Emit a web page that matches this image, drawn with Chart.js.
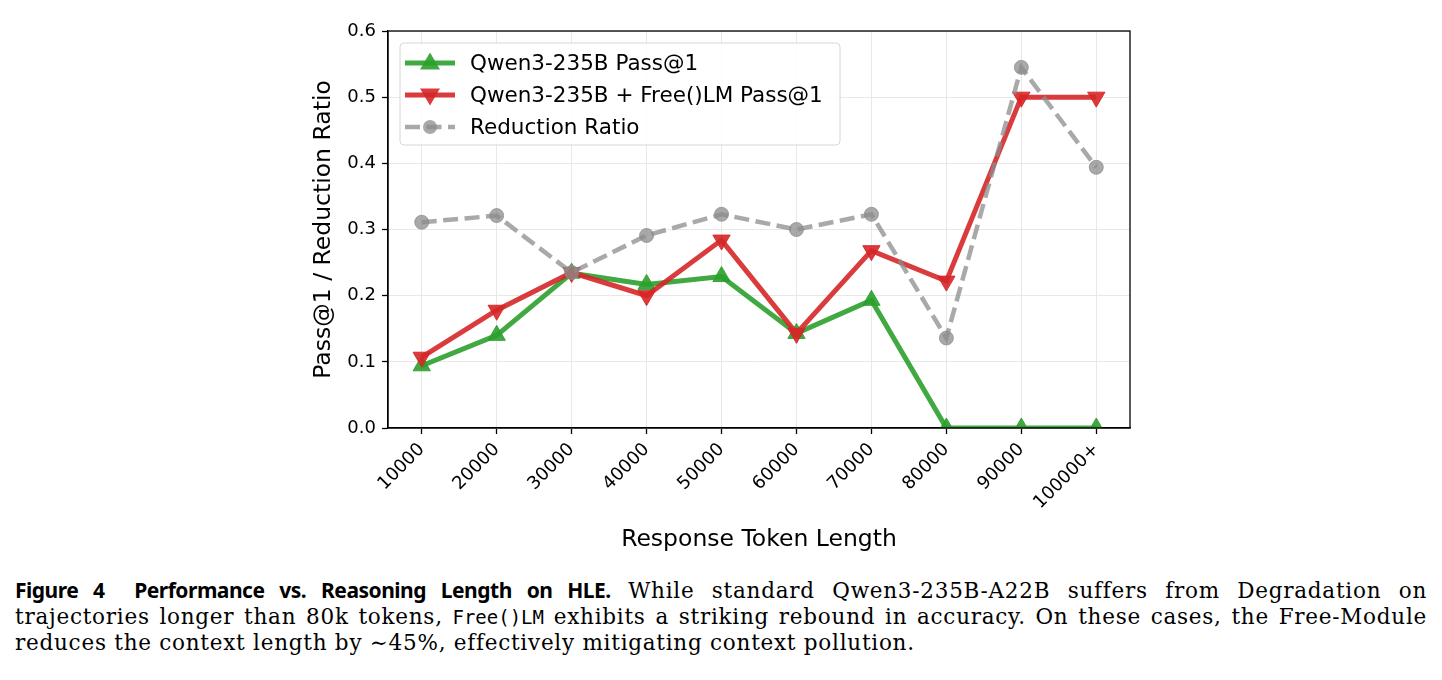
<!DOCTYPE html>
<html lang="en">
<head>
<meta charset="UTF-8">
<title>Performance vs. Reasoning Length on HLE</title>
<script src="https://cdn.jsdelivr.net/npm/chart.js@4.4.1/dist/chart.umd.min.js"></script>
<style>
  body { margin: 0; background: #fff; }
  #wrap { width: 1442px; height: 560px; }
  .cap { width: 1412px; margin-left: 15px; font-family: "DejaVu Serif", serif; font-size: 21.5px; letter-spacing: 0.75px; color: #000; line-height: 26px; }
  .cap div { white-space: nowrap; }
  .cap .j { text-align: justify; text-align-last: justify; }
  .cap b { font-family: "Noto Sans", sans-serif; font-weight: 700; font-size: 21px; letter-spacing: -0.5px; }
  .cap code { font-family: "DejaVu Sans Mono", monospace; font-size: 19px; letter-spacing: 0; }
</style>
</head>
<body>
<div id="wrap"><canvas id="chart" width="1442" height="560"></canvas></div>
<div class="cap" style="margin-top:17px">
  <div class="j"><b>Figure 4&nbsp;&nbsp;Performance vs. Reasoning Length on HLE.</b> While standard Qwen3-235B-A22B suffers from Degradation on</div>
  <div class="j">trajectories longer than 80k tokens, <code>Free()LM</code> exhibits a striking rebound in accuracy. On these cases, the Free-Module</div>
  <div>reduces the context length by ∼45%, effectively mitigating context pollution.</div>
</div>
<script>
const lengths = ["10000","20000","30000","40000","50000","60000","70000","80000","90000","100000+"];
const qwenPass = [0.094, 0.140, 0.234, 0.217, 0.229, 0.143, 0.193, 0.0, 0.0, 0.0];
const freePass = [0.107, 0.178, 0.235, 0.200, 0.284, 0.143, 0.268, 0.222, 0.500, 0.500];
const reduction = [0.311, 0.321, 0.235, 0.291, 0.323, 0.300, 0.323, 0.136, 0.545, 0.394];
const yTicks = [0.0, 0.1, 0.2, 0.3, 0.4, 0.5, 0.6];

const green = "rgba(44,160,44,0.9)";
const red = "rgba(214,39,40,0.9)";
const gray = "rgba(140,140,140,0.75)";
const font = "DejaVu Sans";

const pts = arr => arr.map((v, i) => ({x: i, y: v}));

// matplotlib look: full frame around the axes and the legend inside them
const frameAndLegend = {
    id: "frameAndLegend",
    afterDraw(chart) {
        const {ctx, chartArea: a} = chart;
        ctx.save();
        ctx.strokeStyle = "#000";
        ctx.lineWidth = 1.3;
        ctx.strokeRect(a.left, a.top, a.right - a.left, a.bottom - a.top);

        const bx = a.left + 12, by = a.top + 12, bw = 440, bh = 102;
        ctx.fillStyle = "rgba(255,255,255,0.8)";
        ctx.strokeStyle = "#d6d6d6";
        ctx.lineWidth = 1;
        ctx.beginPath();
        ctx.roundRect(bx, by, bw, bh, 4);
        ctx.fill();
        ctx.stroke();

        const items = [
            {label: "Qwen3-235B Pass@1", color: green, shape: "up", dash: []},
            {label: "Qwen3-235B + Free()LM Pass@1", color: red, shape: "down", dash: []},
            {label: "Reduction Ratio", color: gray, shape: "circle", dash: [15, 6.5]}
        ];
        items.forEach((it, k) => {
            const y = by + 20 + k * 32;
            const x0 = bx + 5, x1 = bx + 55, xm = (x0 + x1) / 2;
            ctx.strokeStyle = it.color;
            ctx.fillStyle = it.color;
            ctx.lineWidth = it.shape === "circle" ? 4.5 : 5;
            ctx.setLineDash(it.dash);
            ctx.beginPath();
            ctx.moveTo(x0, y); ctx.lineTo(x1, y);
            ctx.stroke();
            ctx.setLineDash([]);
            ctx.beginPath();
            if (it.shape === "circle") {
                ctx.arc(xm, y, 7, 0, Math.PI * 2);
            } else {
                const s = it.shape === "up" ? -1 : 1;
                ctx.moveTo(xm, y + s * 10.5);
                ctx.lineTo(xm - 10, y - s * 6.5);
                ctx.lineTo(xm + 10, y - s * 6.5);
                ctx.closePath();
            }
            ctx.fill();
            ctx.fillStyle = "#000";
            ctx.font = "21.5px '" + font + "'";
            ctx.textBaseline = "middle";
            ctx.fillText(it.label, bx + 70, y + 1);
        });
        ctx.restore();
    }
};

new Chart(document.getElementById("chart"), {
    type: "line",
    data: {
        datasets: [
            {
                label: "Qwen3-235B Pass@1",
                data: pts(qwenPass),
                borderColor: green, backgroundColor: green,
                borderWidth: 5,
                pointStyle: "triangle", pointRadius: 10, pointBorderWidth: 1,
                clip: 0, order: 2
            },
            {
                label: "Qwen3-235B + Free()LM Pass@1",
                data: pts(freePass),
                borderColor: red, backgroundColor: red,
                borderWidth: 5,
                pointStyle: "triangle", rotation: 180, pointRadius: 10, pointBorderWidth: 1,
                clip: 0, order: 1
            },
            {
                label: "Reduction Ratio",
                data: pts(reduction),
                borderColor: gray, backgroundColor: gray,
                borderWidth: 4.5, borderDash: [15, 6.5],
                pointStyle: "circle", pointRadius: 7, pointBorderWidth: 1,
                clip: 0, order: 0
            }
        ]
    },
    options: {
        responsive: false,
        animation: false,
        layout: {padding: {left: 296, right: 312, top: 31, bottom: 0}},
        plugins: {legend: {display: false}, tooltip: {enabled: false}},
        scales: {
            x: {
                type: "linear",
                min: -0.45, max: 9.45,
                afterFit: s => { s.height = 132; },
                afterBuildTicks: s => { s.ticks = lengths.map((_, i) => ({value: i})); },
                ticks: {
                    callback: v => lengths[v] ?? "",
                    minRotation: 45, maxRotation: 45,
                    padding: 5,
                    color: "#000",
                    font: {family: font, size: 18}
                },
                grid: {color: "#e8e8e8", lineWidth: 1, tickColor: "#000", tickLength: 6, tickWidth: 1.3},
                border: {color: "#000", width: 1.3},
                title: {
                    display: true, text: "Response Token Length",
                    color: "#000", font: {family: font, size: 23.5},
                    padding: {top: 4, bottom: 6}
                }
            },
            y: {
                min: 0, max: 0.6,
                afterFit: s => { s.width = 92; },
                afterBuildTicks: s => { s.ticks = yTicks.map(v => ({value: v})); },
                ticks: {
                    callback: v => v.toFixed(1),
                    padding: 6,
                    color: "#000",
                    font: {family: font, size: 18}
                },
                grid: {color: "#e8e8e8", lineWidth: 1, tickColor: "#000", tickLength: 6, tickWidth: 1.3},
                border: {color: "#000", width: 1.3},
                title: {
                    display: true, text: "Pass@1 / Reduction Ratio",
                    color: "#000", font: {family: font, size: 23.5},
                    padding: {top: 14, bottom: 4}
                }
            }
        }
    },
    plugins: [frameAndLegend]
});
</script>
</body>
</html>
